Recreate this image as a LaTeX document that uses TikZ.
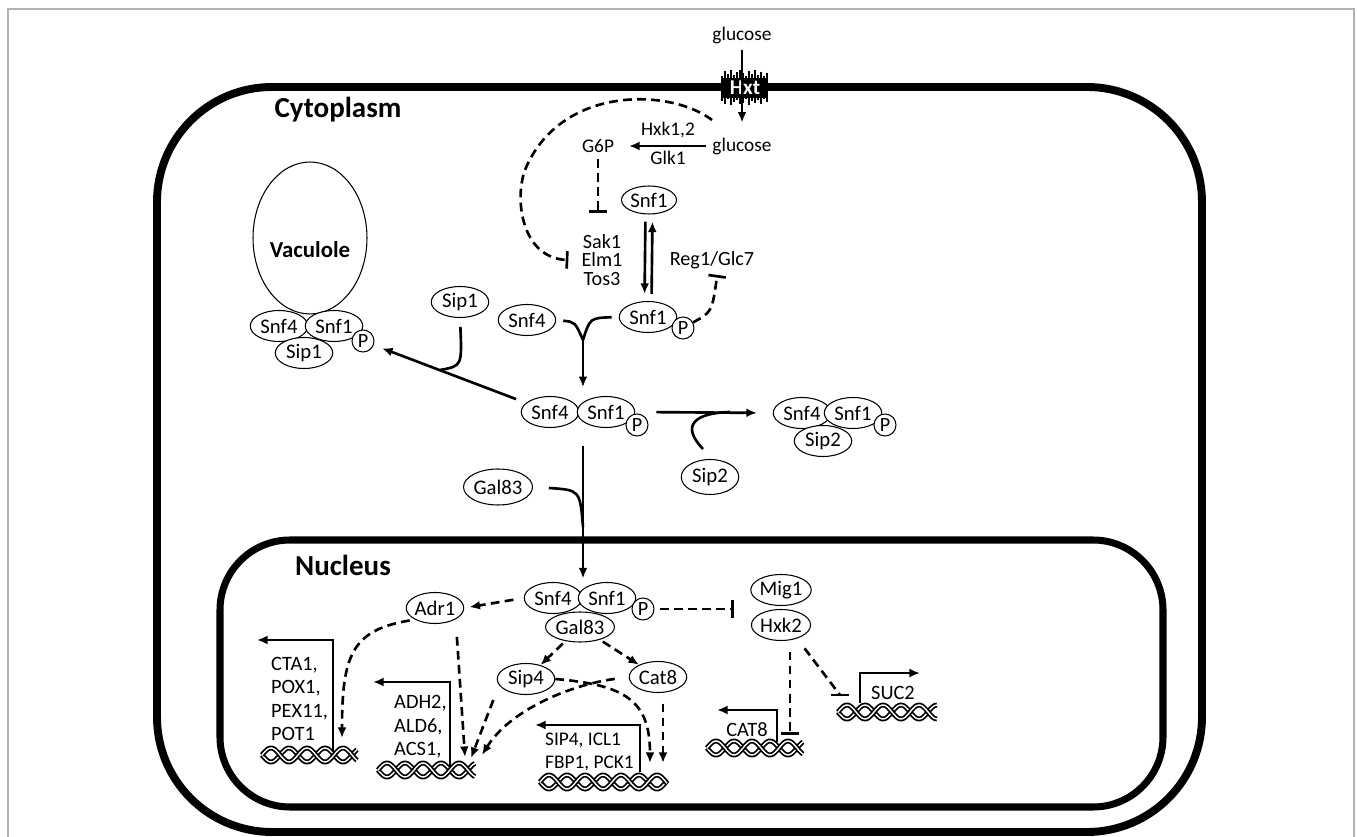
\documentclass[tikz,border=0pt]{standalone}
\usepackage{fontspec}
\setmainfont{Carlito}
\usetikzlibrary{shapes.geometric,arrows.meta}
\newcommand{\dna}[3]{%
  \draw[line width=1pt,double,double distance=0.8pt] plot[domain=0:#3,samples=60,smooth] ({#1+\x},{#2+7*sin(10*\x)});
  \draw[line width=1pt,double,double distance=0.8pt] plot[domain=0:#3,samples=60,smooth] ({#1+\x},{#2-7*sin(10*\x)});}
\begin{document}
\begin{tikzpicture}[x=0.02cm,y=-0.02cm,font=\fontsize{11}{13}\selectfont,
  prot/.style={ellipse,draw,fill=white,line width=0.6pt,inner sep=0pt,minimum width=1.15cm,minimum height=0.62cm,font=\fontsize{11.8}{13}\selectfont},
  phos/.style={circle,draw,fill=white,line width=0.6pt,inner sep=0pt,minimum size=0.44cm,font=\fontsize{11.5}{13}\selectfont},
  lnk/.style={line width=1.5pt},
  arr/.style={lnk,-{Latex[length=6pt,width=5pt]}},
  arrd/.style={arr,dash pattern=on 5pt off 3pt},
  inhd/.style={lnk,dash pattern=on 5pt off 3pt,-{Bar[width=10pt]}},
  title/.style={font=\fontsize{16.5}{18}\selectfont\bfseries},
  genes/.style={anchor=west,align=left,font=\fontsize{11.6}{13.4}\selectfont}]
\useasboundingbox (0,0) rectangle (1357,837);
\draw[gray!60,line width=0.6pt] (8,837) -- (8,9) -- (1354,9) -- (1354,837);
\draw[line width=4.5pt,rounded corners=2.3cm] (157,87) rectangle (1202,832);
\draw[line width=4pt,rounded corners=1.4cm] (220,540) rectangle (1163,807);
\fill (722,78) rectangle (768,98);
\foreach \hx/\ha/\hb in {722/76/101,725/71/104,728/74/99,731/70/105,734/75/102,737/72/100,740/70/104,743/73/103,746/76/99,749/71/105,752/74/101,755/70/103,758/75/100,761/72/104,764/76/99,767/73/102}
  \draw[line width=1.4pt] (\hx,\ha) -- (\hx,\hb);
\node[text=white,font=\fontsize{12}{13}\selectfont\bfseries] (hxt) at (745,88) {Hxt};
\node[title] (cyto) at (338,110) {Cytoplasm};
\node[title] (nuc) at (343,565) {Nucleus};
\node (glco) at (742,35) {glucose};
\node (glci) at (742,146) {glucose};
\node (g6p) at (598,146) {G6P};
\node (hxk) at (668,130) {Hxk1,2};
\node (glk) at (668,158) {Glk1};
\node[align=center,font=\fontsize{11.5}{10.5}\selectfont] (sak) at (602,260) {Sak1\\Elm1\\Tos3};
\node[font=\fontsize{11.5}{13}\selectfont] (reg) at (712,260) {Reg1/Glc7};
\node[prot,minimum width=1.1cm,minimum height=0.56cm] (snf1a) at (649,200) {Snf1};
\node[prot] (snf1p) at (648,317) {Snf1};
\node[phos] (p1) at (683,328) {P};
\node[prot] (snf4a) at (527,320) {Snf4};
\node[prot] (sip1a) at (460,302) {Sip1};
\node[ellipse,draw,line width=0.6pt,minimum width=2.28cm,minimum height=3.04cm] (vac) at (310,238) {};
\node[font=\fontsize{13}{15}\selectfont\bfseries] (vaclab) at (310,250) {Vaculole};
\node[prot] (snf4v) at (279,326) {Snf4};
\node[prot] (snf1v) at (334,326) {Snf1};
\node[prot] (sip1v) at (304,353) {Sip1};
\node[phos] (pv) at (363,341) {P};
\node[prot] (snf4m) at (550,412) {Snf4};
\node[prot] (snf1m) at (606,412) {Snf1};
\node[phos] (pm) at (637,425) {P};
\node[prot] (snf4r) at (802,413) {Snf4};
\node[prot] (snf1r) at (853,413) {Snf1};
\node[prot] (sip2r) at (823,441) {Sip2};
\node[phos] (pr) at (885,425) {P};
\node[prot,minimum height=0.7cm] (sip2) at (710,477) {Sip2};
\node[prot,minimum height=0.72cm] (gal83) at (498,487) {Gal83};
\node[prot] (snf4n) at (553,598) {Snf4};
\node[prot] (snf1n) at (607,598) {Snf1};
\node[prot,minimum height=0.6cm] (gal83n) at (580,627) {Gal83};
\node[phos] (pn) at (643,609) {P};
\node[prot] (adr1) at (435,608) {Adr1};
\node[prot,minimum width=1.05cm] (mig1) at (781,590) {Mig1};
\node[prot,minimum width=1.05cm] (hxk2) at (781,625) {Hxk2};
\node[prot] (sip4) at (526,679) {Sip4};
\node[prot] (cat8) at (658,677) {Cat8};
\node[genes] (cta1) at (265,699) {CTA1,\\POX1,\\PEX11,\\POT1};
\node[genes] (adh2) at (388,727) {ADH2,\\ALD6,\\ACS1,};
\node[genes,font=\fontsize{11}{13}\selectfont] (sip4g) at (539,752) {SIP4, ICL1\\FBP1, PCK1};
\node[font=\fontsize{11.6}{13}\selectfont] (cat8g) at (747,730) {CAT8};
\node[font=\fontsize{11.6}{13}\selectfont] (suc2g) at (893,693) {SUC2};
\coordinate (fb) at (712,120);
\coordinate (g6pbar) at (598,213);
\coordinate (yj) at (583,340);
\coordinate (sj) at (440,370);
\coordinate (s2s) at (703,449);
\coordinate (s2j) at (730,412);
\coordinate (gj) at (583,527);
\coordinate (cta1b) at (333,753); \coordinate (cta1e) at (257,640);
\coordinate (adh2b) at (450,773); \coordinate (adh2e) at (373,682);
\coordinate (sip4b) at (640,772); \coordinate (sip4e) at (535,725);
\coordinate (cat8b) at (777,742); \coordinate (cat8e) at (717,710);
\coordinate (suc2b) at (860,703); \coordinate (suc2e) at (920,673);
\coordinate (cta1t) at (342,738);
\coordinate (adh2t1) at (465,757);
\coordinate (adh2t2) at (471,758);
\coordinate (adh2t3) at (482,755);
\coordinate (sip4t1) at (650,763);
\coordinate (sip4t2) at (663,763);
\coordinate (cat8bar) at (790,735);
\coordinate (suc2bar) at (840,695);
\draw[arr,shorten >=5pt] (glco) -- (glci);
\draw[arr,shorten >=5pt] (glci) -- (g6p);
\draw[inhd] (fb) .. controls (670,88) and (560,85) .. (525,170) .. controls (514,200) and (522,258) .. ([xshift=-4pt]sak.west);
\draw[inhd] (g6p) -- (g6pbar);
\draw[arr,shorten <=4pt,shorten >=4pt] ([xshift=-2pt]snf1a.south) -- ([xshift=-2pt]snf1p.north);
\draw[arr,shorten <=4pt,shorten >=4pt] ([xshift=2pt]snf1p.north) -- ([xshift=2pt]snf1a.south);
\draw[inhd] (p1) .. controls (712,312) .. ([xshift=3pt]reg.south);
\draw[lnk,shorten <=4pt] (snf4a.east) .. controls (575,322) .. (yj);
\draw[lnk,shorten <=4pt] (snf1p.west) .. controls (590,318) .. (yj);
\draw[arr,shorten >=5pt] (yj) -- (yj |- snf4m.north);
\draw[arr,shorten <=6pt,shorten >=5pt] (snf4m) -- (pv);
\draw[lnk,shorten <=5pt] (sip1a.south) .. controls (462,366) .. (sj);
\draw[arr,shorten <=12pt,shorten >=9pt] (snf1m.east) -- (snf4r.west);
\draw[lnk] (s2s) .. controls (680,425) and (695,413) .. (s2j);
\draw[arr,shorten <=10pt,shorten >=2pt] (yj |- snf4m.south) -- (yj |- snf4n.north);
\draw[lnk,shorten <=9pt] (gal83.east) .. controls (580,490) .. (gj);
\draw[arrd,shorten <=6pt,shorten >=3pt] (snf4n.west) -- (adr1.east);
\draw[inhd,shorten <=3pt,shorten >=9.5pt] (pn) -- (pn -| mig1.west);
\draw[arrd,shorten <=2pt] (gal83n) -- (sip4);
\draw[arrd,shorten <=2pt] (gal83n) -- (cat8);
\draw[arr] (cta1b) |- (cta1e);
\draw[arr] (adh2b) |- (adh2e);
\draw[arr] (sip4b) |- (sip4e);
\draw[arr] (cat8b) |- (cat8e);
\draw[arr] (suc2b) |- (suc2e);
\dna{262}{755}{95}
\dna{378}{770}{97}
\dna{540}{782}{127}
\dna{707}{748}{96}
\dna{838}{712}{99}
\draw[arrd,shorten <=3pt] (adr1.210) .. controls (352,630) and (342,655) .. (cta1t);
\draw[arrd,shorten <=10pt] (adr1.south east) -- (adh2t1);
\draw[arrd,shorten <=9pt] (sip4.193) -- (adh2t2);
\draw[arrd,shorten <=8pt] (cat8.west) .. controls (570,685) and (510,710) .. (adh2t3);
\draw[arrd] (sip4.east) .. controls (625,685) and (650,700) .. (sip4t1);
\draw[arrd,shorten <=6pt] (cat8.south -| sip4t2) -- (sip4t2);
\draw[inhd,shorten <=6pt] (hxk2.south -| cat8bar) -- (cat8bar);
\draw[lnk,dash pattern=on 5pt off 3pt,shorten <=7pt] (hxk2.-40) -- (suc2bar);
\draw[lnk] (suc2bar) +(-9,0) -- +(9,0);
\end{tikzpicture}
\end{document}
